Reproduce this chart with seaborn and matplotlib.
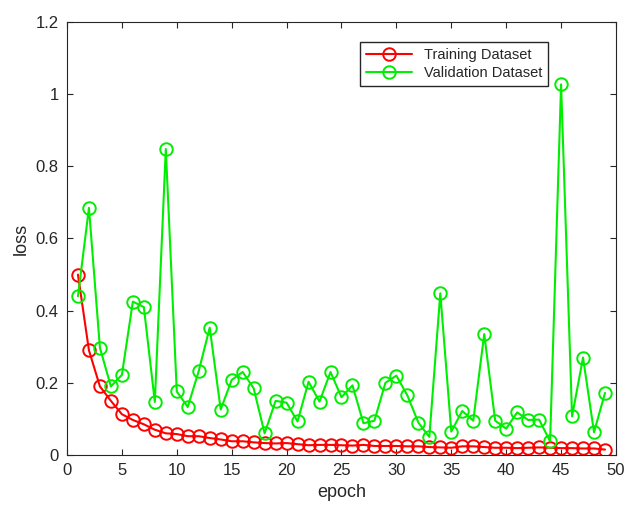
import numpy as np
import pandas as pd
import seaborn as sns
import matplotlib
matplotlib.use("Agg")
import matplotlib.pyplot as plt

epochs = list(range(1, 50))
train_loss = [0.5, 0.29, 0.19, 0.15, 0.113, 0.097, 0.085, 0.07, 0.06, 0.058,
              0.052, 0.052, 0.047, 0.043, 0.038, 0.038, 0.035, 0.033, 0.032, 0.033,
              0.03, 0.027, 0.028, 0.028, 0.027, 0.026, 0.028, 0.025, 0.025, 0.025,
              0.024, 0.024, 0.022, 0.021, 0.02, 0.024, 0.024, 0.022, 0.02, 0.02,
              0.019, 0.02, 0.021, 0.02, 0.019, 0.019, 0.018, 0.018, 0.015]
val_loss = [0.44, 0.685, 0.297, 0.19, 0.222, 0.425, 0.41, 0.147, 0.848, 0.176,
            0.133, 0.233, 0.353, 0.126, 0.208, 0.23, 0.185, 0.06, 0.15, 0.145,
            0.093, 0.203, 0.148, 0.23, 0.16, 0.193, 0.088, 0.095, 0.2, 0.22,
            0.165, 0.09, 0.05, 0.448, 0.065, 0.122, 0.095, 0.335, 0.095, 0.073,
            0.118, 0.097, 0.098, 0.038, 1.027, 0.107, 0.27, 0.063, 0.172]
series = ['Training Dataset', 'Validation Dataset']
colors = ['#ff0000', '#00ee00']

df = pd.DataFrame({
    'epoch': epochs * 2,
    'loss': train_loss + val_loss,
    'series': [series[0]] * len(epochs) + [series[1]] * len(epochs),
})

sns.set_style("ticks")
plt.rcParams['font.family'] = ['Liberation Sans', 'DejaVu Sans']

fig = plt.figure(figsize=(6.26, 5.07), dpi=100)
ax = fig.add_axes([0.107, 0.1026, 0.877, 0.854])

# Training and validation curves, open circle markers
sns.lineplot(data=df, x='epoch', y='loss', hue='series', style='series',
             palette=dict(zip(series, colors)), markers={s: 'o' for s in series},
             dashes=False, linewidth=1.5, ax=ax)


def open_circles(line):
    line.set_markersize(9)
    line.set_markerfacecolor('none')
    line.set_markeredgecolor(line.get_color())
    line.set_markeredgewidth(1.4)


for line in ax.lines:
    open_circles(line)

ax.set_xlim(0, 50)
ax.set_ylim(0, 1.2)
ax.set_xticks(range(0, 51, 5))
ax.set_yticks([0, 0.2, 0.4, 0.6, 0.8, 1.0, 1.2])
ax.set_yticklabels(['0', '0.2', '0.4', '0.6', '0.8', '1', '1.2'])
ax.tick_params(direction='in', top=True, right=True, labelsize=12, length=4,
               width=0.8, pad=6)
for s in ax.spines.values():
    s.set_visible(True)
    s.set_linewidth(0.8)
    s.set_color('#262626')
ax.set_xlabel('epoch', fontsize=13, labelpad=4)
ax.set_ylabel('loss', fontsize=13, labelpad=4)

handles, labels = ax.get_legend_handles_labels()
for h in handles:
    open_circles(h)
ax.legend(handles, labels, loc='upper left', bbox_to_anchor=(0.52, 0.97),
          fontsize=10.5, frameon=True, fancybox=False, edgecolor='#262626',
          framealpha=1, borderpad=0.4, handlelength=3.2, labelspacing=0.3)

plt.savefig('out.png', dpi=100)
